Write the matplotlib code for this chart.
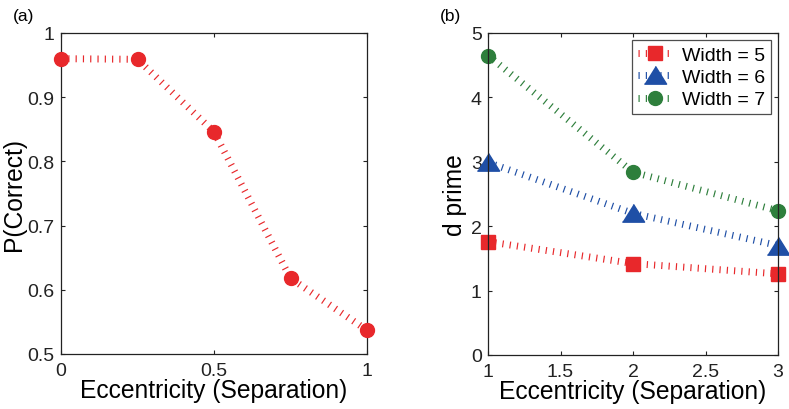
import matplotlib
matplotlib.use('Agg')
import matplotlib.pyplot as plt

# panel (a): P(Correct) vs eccentricity
ecc_a = [0, 0.25, 0.5, 0.75, 1.0]
pcorrect = [0.960, 0.959, 0.846, 0.618, 0.537]

# panel (b): d prime vs eccentricity for three widths
ecc_b = [1, 2, 3]
dprime_w5 = [1.76, 1.42, 1.26]
dprime_w6 = [2.99, 2.20, 1.70]
dprime_w7 = [4.65, 2.84, 2.24]

RED = '#e8282b'
BLUE = '#1f4fa6'
GREEN = '#2e7f3c'

plt.rcParams['font.family'] = ['Liberation Sans', 'DejaVu Sans']
plt.rcParams['lines.scale_dashes'] = False

# MATLAB-style thick dotted line -> short perpendicular ticks
LINE_KW = dict(lw=5.0, dashes=(0.85, 4.4), dash_capstyle='butt', clip_on=False)
TRI = [(-1, -0.78), (1, -0.78), (0, 0.82)]


def style(ax):
    ax.tick_params(direction='in', length=3, width=0.8, top=True, right=True,
                   labelsize=14, pad=4.5, colors='#222222')
    ax.tick_params(axis='x', pad=6)
    for s in ax.spines.values():
        s.set_linewidth(0.9)
        s.set_color('#222222')


fig = plt.figure(figsize=(7.89, 4.10), dpi=100)
ax1 = fig.add_axes([61 / 789, 1 - 355 / 410, 306 / 789, 321 / 410])
ax2 = fig.add_axes([488 / 789, 1 - 356 / 410, 290 / 789, 322 / 410])

# (a)
ax1.plot(ecc_a, pcorrect, color=RED, **LINE_KW)
ax1.plot(ecc_a, pcorrect, ls='none', marker='o', ms=10, color=RED, clip_on=False, zorder=3)
ax1.set_xlim(0, 1)
ax1.set_ylim(0.5, 1)
ax1.set_xticks([0, 0.5, 1])
ax1.set_xticklabels(['0', '0.5', '1'])
ax1.set_yticks([0.5, 0.6, 0.7, 0.8, 0.9, 1])
ax1.set_yticklabels(['0.5', '0.6', '0.7', '0.8', '0.9', '1'])
ax1.set_xlabel('Eccentricity (Separation)', fontsize=17.7, labelpad=-1)
ax1.set_ylabel('P(Correct)', fontsize=17.7, labelpad=1)
style(ax1)

# (b)
series = [
    (dprime_w5, RED, 's', 9.5, 'Width = 5'),
    (dprime_w6, BLUE, TRI, 16, 'Width = 6'),
    (dprime_w7, GREEN, 'o', 10, 'Width = 7'),
]
for vals, col, mk, ms, lab in series:
    ax2.plot(ecc_b, vals, color=col, marker=mk, ms=ms, label=lab,
             markevery=[0, 1, 2], **LINE_KW)
ax2.set_xlim(1, 3)
ax2.set_ylim(0, 5)
ax2.set_xticks([1, 1.5, 2, 2.5, 3])
ax2.set_xticklabels(['1', '1.5', '2', '2.5', '3'])
ax2.set_yticks([0, 1, 2, 3, 4, 5])
ax2.set_xlabel('Eccentricity (Separation)', fontsize=17.7, labelpad=-1)
ax2.set_ylabel('d prime', fontsize=17.7, labelpad=3)
style(ax2)
leg = ax2.legend(loc='upper right', bbox_to_anchor=(0.976, 0.978), borderaxespad=0,
                 fontsize=14, frameon=True, fancybox=False, handlelength=1.7,
                 handletextpad=0.55, borderpad=0.3, labelspacing=0.25)
leg.get_frame().set_edgecolor('#222222')
leg.get_frame().set_linewidth(0.9)

fig.text(13 / 789, 1 - 16 / 410, '(a)', fontsize=12.5, va='center', ha='left')
fig.text(440 / 789, 1 - 16 / 410, '(b)', fontsize=12.5, va='center', ha='left')

fig.savefig('out.png', dpi=100)
